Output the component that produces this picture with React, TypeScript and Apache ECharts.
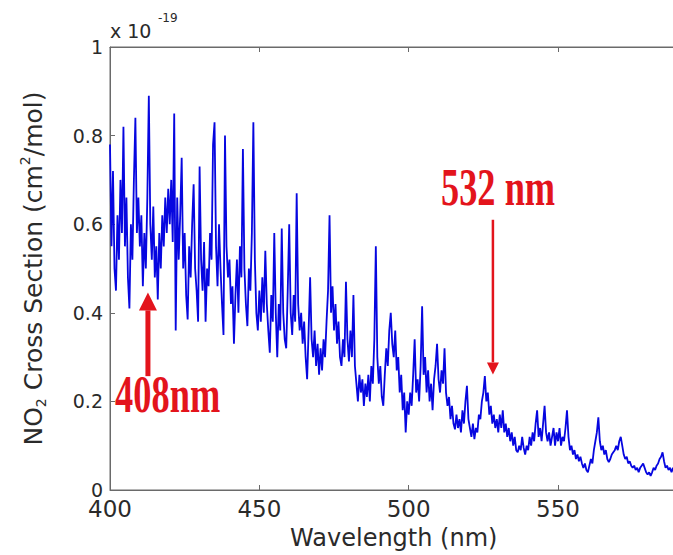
import React, { useEffect, useRef } from "react";
import * as echarts from "echarts";

// NO2 absorption cross section (x 1e-19 cm^2/molecule), sampled every 0.5 nm from 400 nm
const WAVELENGTH_START = 400;
const WAVELENGTH_STEP = 0.5;

const cs400to450 = [
  0.78, 0.55, 0.72, 0.50, 0.45, 0.62, 0.52, 0.70, 0.58, 0.82,
  0.55, 0.66, 0.48, 0.41, 0.60, 0.52, 0.70, 0.84, 0.58, 0.66,
  0.55, 0.62, 0.46, 0.58, 0.50, 0.66, 0.89, 0.60, 0.52, 0.64,
  0.48, 0.55, 0.43, 0.58, 0.50, 0.62, 0.55, 0.66, 0.58, 0.68,
  0.60, 0.70, 0.56, 0.85, 0.36, 0.66, 0.52, 0.62, 0.75, 0.50,
  0.58, 0.44, 0.385, 0.55, 0.48, 0.60, 0.69, 0.50, 0.45, 0.38,
  0.73, 0.52, 0.45, 0.56, 0.38, 0.50, 0.46, 0.58, 0.52, 0.78,
  0.83, 0.55, 0.46, 0.60, 0.50, 0.42, 0.35, 0.80, 0.55, 0.48,
  0.52, 0.42, 0.46, 0.33, 0.44, 0.52, 0.40, 0.55, 0.48, 0.77,
  0.50, 0.42, 0.37, 0.50, 0.45, 0.58, 0.83, 0.52, 0.40, 0.36,
];
const cs450to500 = [
  0.45, 0.38, 0.48, 0.40, 0.54, 0.42, 0.36, 0.31, 0.44, 0.38,
  0.58, 0.40, 0.30, 0.42, 0.36, 0.59, 0.40, 0.34, 0.32, 0.45,
  0.60, 0.40, 0.35, 0.44, 0.38, 0.67, 0.42, 0.36, 0.40, 0.33,
  0.38, 0.30, 0.25, 0.36, 0.48, 0.34, 0.30, 0.36, 0.28, 0.33,
  0.26, 0.32, 0.27, 0.34, 0.30, 0.38, 0.45, 0.62, 0.40, 0.46,
  0.36, 0.42, 0.33, 0.38, 0.30, 0.28, 0.34, 0.30, 0.47, 0.34,
  0.29, 0.36, 0.30, 0.44, 0.28, 0.24, 0.20, 0.26, 0.22, 0.25,
  0.19, 0.24, 0.21, 0.26, 0.20, 0.28, 0.24, 0.34, 0.55, 0.30,
  0.24, 0.28, 0.21, 0.19, 0.26, 0.32, 0.28, 0.36, 0.40, 0.33,
  0.30, 0.36, 0.27, 0.30, 0.22, 0.26, 0.18, 0.22, 0.13, 0.20,
];
const cs500to550 = [
  0.17, 0.22, 0.19, 0.26, 0.34, 0.22, 0.25, 0.20, 0.28, 0.415,
  0.26, 0.30, 0.22, 0.27, 0.20, 0.24, 0.18, 0.25, 0.28, 0.33,
  0.25, 0.22, 0.27, 0.24, 0.32, 0.22, 0.19, 0.21, 0.16, 0.19,
  0.15, 0.137, 0.17, 0.14, 0.16, 0.13, 0.18, 0.15, 0.20, 0.235,
  0.16, 0.14, 0.12, 0.15, 0.115, 0.14, 0.13, 0.17, 0.16, 0.20,
  0.22, 0.257, 0.20, 0.22, 0.17, 0.19, 0.15, 0.17, 0.14, 0.16,
  0.13, 0.17, 0.14, 0.18, 0.13, 0.15, 0.12, 0.14, 0.11, 0.13,
  0.10, 0.12, 0.09, 0.085, 0.10, 0.09, 0.12, 0.095, 0.08, 0.10,
  0.09, 0.12, 0.10, 0.13, 0.11, 0.15, 0.18, 0.12, 0.14, 0.11,
  0.15, 0.19, 0.13, 0.11, 0.13, 0.10, 0.12, 0.14, 0.10, 0.13,
];
const cs550to590 = [
  0.11, 0.14, 0.10, 0.12, 0.11, 0.14, 0.18, 0.12, 0.09, 0.10,
  0.08, 0.09, 0.07, 0.08, 0.065, 0.075, 0.06, 0.05, 0.06, 0.045,
  0.04, 0.055, 0.07, 0.06, 0.09, 0.11, 0.13, 0.164, 0.11, 0.09,
  0.10, 0.08, 0.09, 0.07, 0.063, 0.07, 0.08, 0.085, 0.09, 0.10,
  0.09, 0.11, 0.12, 0.10, 0.08, 0.07, 0.075, 0.06, 0.065, 0.055,
  0.05, 0.055, 0.045, 0.05, 0.04, 0.05, 0.055, 0.06, 0.05, 0.04,
  0.035, 0.04, 0.032, 0.04, 0.05, 0.045, 0.055, 0.06, 0.07, 0.075,
  0.085, 0.065, 0.05, 0.055, 0.045, 0.05, 0.04, 0.05, 0.045, 0.06,
  0.05,
];

// axes
const X_MIN = 400;
const X_MAX = 590;
const X_INTERVAL = 50;
const Y_MIN = 0;
const Y_MAX = 1;
const Y_INTERVAL = 0.2;
const yTickLabels = ["0", "0.2", "0.4", "0.6", "0.8", "1"];

// annotations (data coordinates)
const annotationLabels = ["532 nm", "408nm"];
const annotationLabelAnchors = [
  [510.8, 0.682],
  [401.7, 0.216],
];
const arrowWavelengths = [528.2, 412.7];
const arrowTails = [0.61, 0.257];
const arrowTips = [0.261, 0.446];

const RED = "#e3141c";
const BLUE = "#0606e0";
const AXIS = "#6a6a6a";
const TEXT = "#2a2a2a";
const FONT = "DejaVu Sans";

export default function App() {
  const ref = useRef<HTMLDivElement>(null);

  useEffect(() => {
    const chart = echarts.init(ref.current as HTMLDivElement, null, { renderer: "svg" });
    const values = [...cs400to450, ...cs450to500, ...cs500to550, ...cs550to590];
    const data = values.map((v, i) => [WAVELENGTH_START + i * WAVELENGTH_STEP, v]);

    chart.setOption({
      animation: false,
      backgroundColor: "#ffffff",
      grid: {
        left: 110,
        top: 47,
        width: 567.5,
        height: 444,
        show: true,
        borderColor: AXIS,
        borderWidth: 1,
      },
      xAxis: [
        {
          type: "value",
          min: X_MIN,
          max: X_MAX,
          interval: X_INTERVAL,
          position: "bottom",
          axisLine: { show: true, lineStyle: { color: AXIS, width: 1 } },
          axisTick: { show: true, inside: true, length: 5, lineStyle: { color: AXIS } },
          axisLabel: { color: TEXT, fontFamily: FONT, fontSize: 23, margin: 7, showMaxLabel: false },
          splitLine: { show: false },
          name: "Wavelength (nm)",
          nameLocation: "middle",
          nameGap: 36,
          nameTextStyle: { color: TEXT, fontFamily: FONT, fontSize: 24 },
        },
        {
          type: "value",
          min: X_MIN,
          max: X_MAX,
          interval: X_INTERVAL,
          position: "top",
          axisLine: { show: true, lineStyle: { color: AXIS, width: 1 } },
          axisTick: { show: true, inside: true, length: 5, lineStyle: { color: AXIS } },
          axisLabel: { show: false },
          splitLine: { show: false },
        },
      ],
      yAxis: {
        type: "value",
        min: Y_MIN,
        max: Y_MAX,
        interval: Y_INTERVAL,
        axisLine: { show: true, lineStyle: { color: AXIS, width: 1 } },
        axisTick: { show: true, inside: true, length: 5, lineStyle: { color: AXIS } },
        axisLabel: {
          color: TEXT,
          fontFamily: FONT,
          fontSize: 19,
          margin: 7,
          formatter: (v: number) => yTickLabels[Math.round((v - Y_MIN) / Y_INTERVAL)] ?? "",
        },
        splitLine: { show: false },
        name: "{t|NO}{sub|2}{t| Cross Section (cm}{sup|2}{t|/mol)}",
        nameLocation: "middle",
        nameGap: 62,
        nameTextStyle: {
          color: TEXT,
          fontFamily: FONT,
          fontSize: 25,
          rich: {
            t: { fontFamily: FONT, fontSize: 25, color: TEXT, lineHeight: 30, verticalAlign: "middle" },
            sub: { fontFamily: FONT, fontSize: 14, color: TEXT, lineHeight: 14, verticalAlign: "bottom" },
            sup: { fontFamily: FONT, fontSize: 14, color: TEXT, lineHeight: 14, verticalAlign: "top" },
          },
        },
      },
      series: [
        {
          type: "line",
          data,
          showSymbol: false,
          symbol: "none",
          lineStyle: { color: BLUE, width: 1.8 },
          clip: false,
        },
      ],
    });

    const toPx = (p: number[]) => chart.convertToPixel({ seriesIndex: 0 }, p) as number[];
    const graphics: any[] = [];

    // exponent label
    const corner = toPx([X_MIN, Y_MAX]);
    graphics.push({
      type: "text",
      x: corner[0],
      y: corner[1] - 7,
      style: { text: "x 10", fontFamily: FONT, fontSize: 19, fill: TEXT, align: "left", verticalAlign: "bottom" },
    });
    graphics.push({
      type: "text",
      x: corner[0] + 48,
      y: corner[1] - 23,
      style: { text: "-19", fontFamily: FONT, fontSize: 12, fill: TEXT, align: "left", verticalAlign: "bottom" },
    });

    annotationLabels.forEach((label, i) => {
      const a = toPx(annotationLabelAnchors[i]);
      graphics.push({
        type: "text",
        x: a[0],
        y: a[1],
        scaleX: 0.7,
        style: {
          text: label,
          fontFamily: "Liberation Serif",
          fontWeight: "bold",
          fontSize: 52,
          fill: RED,
          align: "left",
          verticalAlign: "middle",
        },
      });
      const tail = toPx([arrowWavelengths[i], arrowTails[i]]);
      const tip = toPx([arrowWavelengths[i], arrowTips[i]]);
      const dir = tip[1] > tail[1] ? 1 : -1;
      const big = i === 1;
      const headLen = big ? 18 : 12;
      const headHalf = big ? 9 : 6;
      const shaft = big ? 5 : 2.5;
      graphics.push({
        type: "line",
        shape: { x1: tail[0], y1: tail[1], x2: tip[0], y2: tip[1] - dir * headLen },
        style: { stroke: RED, lineWidth: shaft },
      });
      graphics.push({
        type: "polygon",
        shape: {
          points: [
            [tip[0] - headHalf, tip[1] - dir * headLen],
            [tip[0] + headHalf, tip[1] - dir * headLen],
            [tip[0], tip[1]],
          ],
        },
        style: { fill: RED },
      });
    });

    chart.setOption({ graphic: graphics });

    return () => chart.dispose();
  }, []);

  return (
    <div
      style={{
        position: "absolute",
        left: 0,
        top: 0,
        width: 673,
        height: 555,
        overflow: "hidden",
        background: "#ffffff",
      }}
    >
      <div ref={ref} style={{ width: 740, height: 555 }} />
    </div>
  );
}
